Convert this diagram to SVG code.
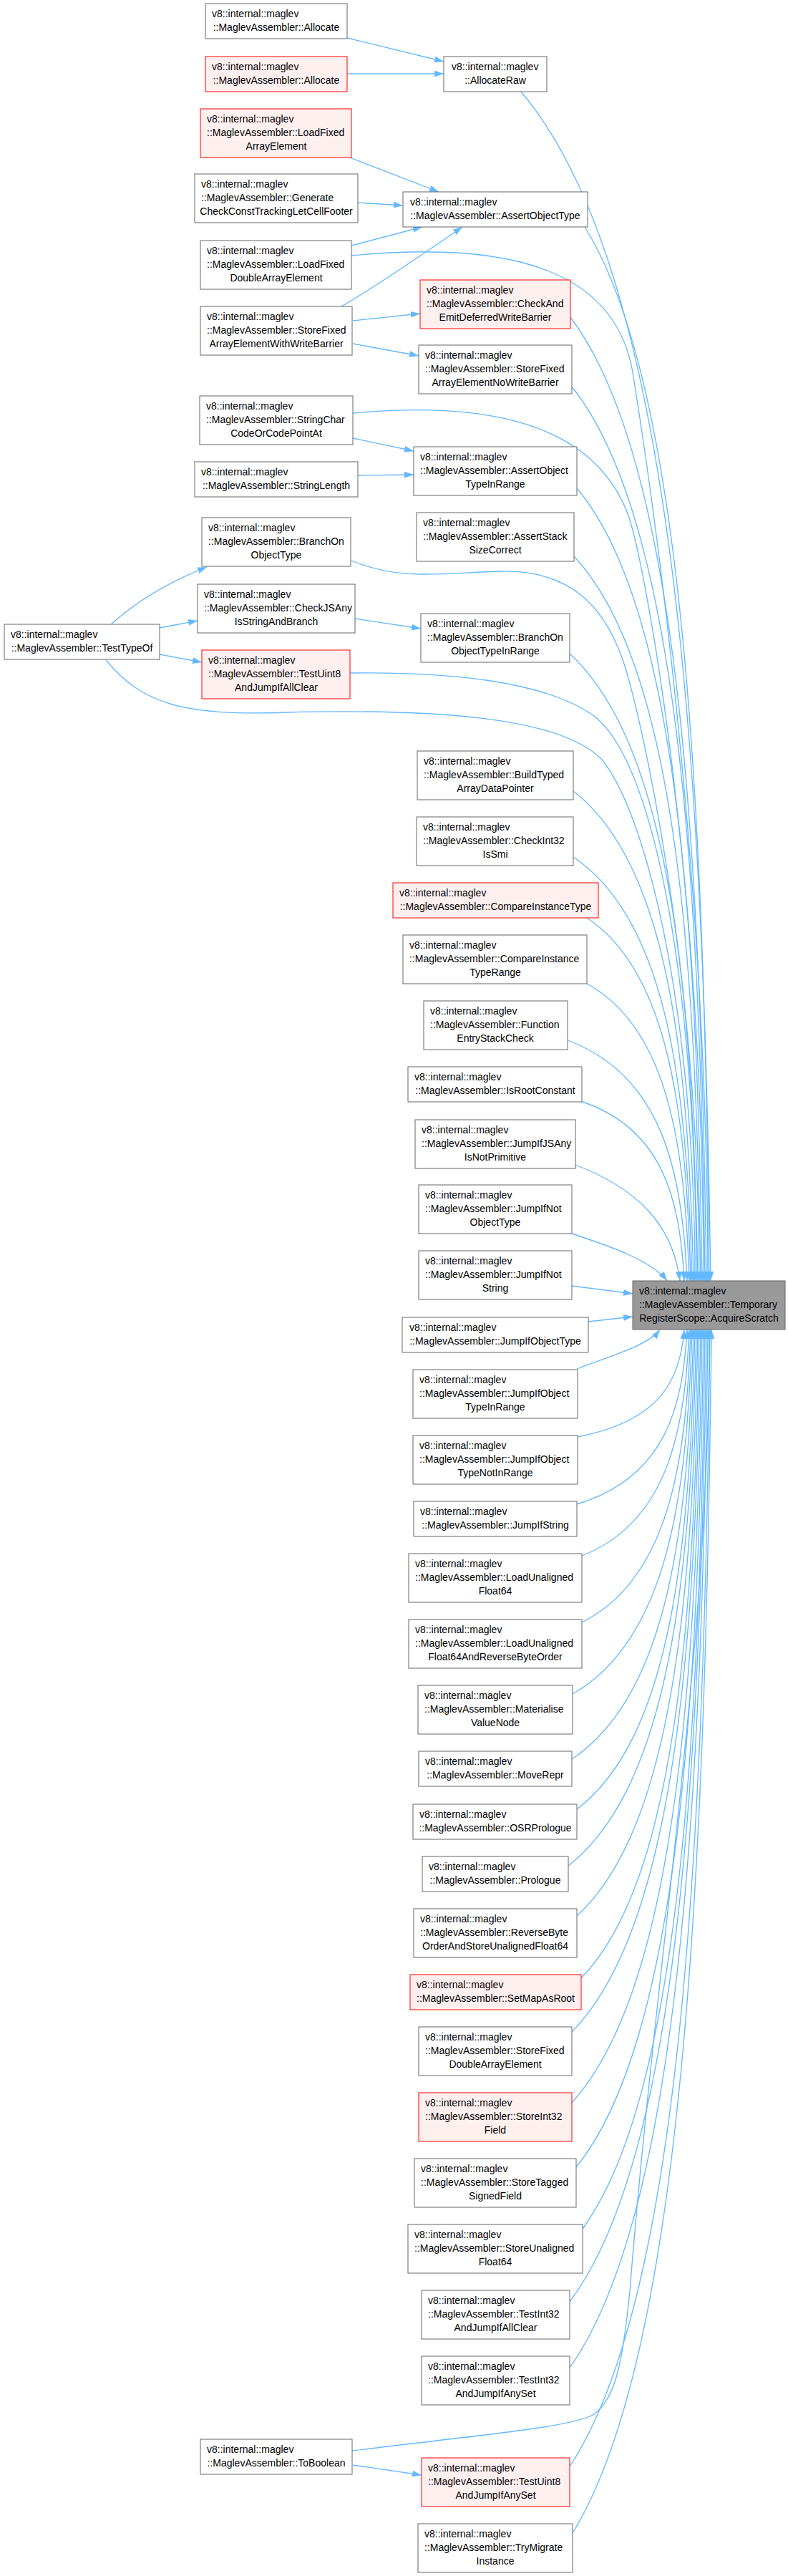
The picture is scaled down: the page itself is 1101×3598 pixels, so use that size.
<svg xmlns="http://www.w3.org/2000/svg" width="1101" height="3598" viewBox="0 0 1101 3598">
<style>
.n rect{fill:#ffffff;stroke:#666666;stroke-width:1}
.r rect{fill:#fff0f0;stroke:#ff0000;stroke-width:1}
.t rect{fill:#999999;stroke:#666666;stroke-width:1}
text{font-family:"Liberation Sans",Arial,sans-serif;font-size:14px;fill:#000000}
.c{text-anchor:middle}
#edges path{fill:none;stroke:#63b8ff;stroke-width:1.33;marker-end:url(#a)}
</style>
<defs>
<marker id="a" viewBox="0 0 13 9" markerWidth="13" markerHeight="9" refX="13" refY="4.5" orient="auto" markerUnits="userSpaceOnUse"><path d="M0,0L13,4.5L0,9z" fill="#63b8ff"/></marker>
</defs>
<rect width="1101" height="3598" fill="#ffffff"/>
<g id="edges">
<path d="M485,53 L620,86"/>
<path d="M485,103 L620,103"/>
<path d="M486,219 L613,268"/>
<path d="M500,283 L563,287"/>
<path d="M491,343 L590,317"/>
<path d="M477,428 C500,415 540,390 646,317"/>
<path d="M493,448 L587,438"/>
<path d="M493,480 L585,497"/>
<path d="M493,612 L578,630"/>
<path d="M500,664 L578,663"/>
<path d="M155,872 C185,845 230,815 289,792"/>
<path d="M223,877 L276,867"/>
<path d="M223,914 L282,925"/>
<path d="M496,864 L588,878"/>
<path d="M493,3443 L589,3457"/>
<path d="M727,127 C940,376 982,1041 993,1789"/>
<path d="M817,317 C956,538 984,1127 991,1789"/>
<path d="M491,357 C720,335 860,380 884,520 C905,650 989,1200 989,1789"/>
<path d="M797,443 C949,645 979,1183 987,1789"/>
<path d="M799,540 C948,727 978,1227 985,1789"/>
<path d="M493,577 C680,560 830,590 878,720 C905,800 983,1250 983,1789"/>
<path d="M806,682 C946,848 974,1291 981,1789"/>
<path d="M802,777 C944,929 972,1334 979,1789"/>
<path d="M491,783 C560,812 620,800 700,798 C800,796 850,850 876,940 C910,1060 977,1400 977,1789"/>
<path d="M796,913 C939,1044 968,1395 975,1789"/>
<path d="M489,940 C620,938 760,950 830,1000 C920,1070 973,1400 973,1789"/>
<path d="M148,922 C200,985 260,1000 400,995 C600,990 780,1000 840,1060 C900,1130 971,1400 971,1789"/>
<path d="M801,1105 C935,1208 962,1481 969,1789"/>
<path d="M801,1197 C934,1286 960,1523 967,1789"/>
<path d="M820,1282 C936,1358 959,1561 965,1789"/>
<path d="M820,1374 C934,1436 957,1602 963,1789"/>
<path d="M793,1453 C927,1503 953,1638 960,1789"/>
<path d="M811,1538 C927,1576 950,1676 956,1789"/>
<path d="M804,1627 C890,1660 940,1710 950,1789"/>
<path d="M799,1723 C850,1740 910,1760 932,1789"/>
<path d="M799,1796 L884,1807"/>
<path d="M822,1846 L884,1839"/>
<path d="M806,1912 C850,1895 905,1880 922,1857"/>
<path d="M807,2007 C926,1984 950,1925 956,1857"/>
<path d="M806,2101 C929,2064 954,1967 960,1857"/>
<path d="M813,2173 C933,2126 957,1999 963,1857"/>
<path d="M813,2266 C935,2205 959,2041 965,1857"/>
<path d="M800,2366 C934,2290 960,2086 967,1857"/>
<path d="M799,2457 C935,2367 962,2127 969,1857"/>
<path d="M806,2527 C938,2427 964,2159 971,1857"/>
<path d="M794,2606 C937,2494 966,2194 973,1857"/>
<path d="M806,2676 C941,2553 968,2226 975,1857"/>
<path d="M812,2763 C944,2627 970,2265 977,1857"/>
<path d="M799,2838 C943,2691 972,2298 979,1857"/>
<path d="M799,2937 C945,2775 974,2343 981,1857"/>
<path d="M805,3027 C947,2851 976,2384 983,1857"/>
<path d="M814,3113 C951,2925 978,2422 985,1857"/>
<path d="M796,3215 C949,3011 979,2468 987,1857"/>
<path d="M796,3307 C950,3089 981,2510 989,1857"/>
<path d="M492,3423 C680,3400 800,3390 830,3372 C860,3350 870,3300 880,3200 C920,2700 991,2300 991,1857"/>
<path d="M796,3445 C953,3207 984,2572 992,1857"/>
<path d="M800,3538 C955,3286 986,2613 994,1857"/>
</g>
<g id="n_alloc1" class="n"><rect x="287" y="5" width="198" height="49"/><text x="296" y="24">v8::internal::maglev</text><text class="c" x="386" y="43">::MaglevAssembler::Allocate</text></g>
<g id="n_alloc2" class="r"><rect x="287" y="79" width="198" height="49"/><text x="296" y="98">v8::internal::maglev</text><text class="c" x="386" y="117">::MaglevAssembler::Allocate</text></g>
<g id="n_loadfixed" class="r"><rect x="280" y="152" width="211" height="68"/><text x="289" y="171">v8::internal::maglev</text><text x="289" y="190">::MaglevAssembler::LoadFixed</text><text class="c" x="386" y="209">ArrayElement</text></g>
<g id="n_generate" class="n"><rect x="272" y="243" width="228" height="68"/><text x="281" y="262">v8::internal::maglev</text><text x="281" y="281">::MaglevAssembler::Generate</text><text class="c" x="386" y="300">CheckConstTrackingLetCellFooter</text></g>
<g id="n_loadfixeddouble" class="n"><rect x="280" y="336" width="211" height="68"/><text x="289" y="355">v8::internal::maglev</text><text x="289" y="374">::MaglevAssembler::LoadFixed</text><text class="c" x="386" y="393">DoubleArrayElement</text></g>
<g id="n_storefixedwb" class="n"><rect x="280" y="428" width="212" height="68"/><text x="289" y="447">v8::internal::maglev</text><text x="289" y="466">::MaglevAssembler::StoreFixed</text><text class="c" x="386" y="485">ArrayElementWithWriteBarrier</text></g>
<g id="n_stringchar" class="n"><rect x="279" y="553" width="214" height="68"/><text x="288" y="572">v8::internal::maglev</text><text x="288" y="591">::MaglevAssembler::StringChar</text><text class="c" x="386" y="610">CodeOrCodePointAt</text></g>
<g id="n_stringlength" class="n"><rect x="272" y="645" width="228" height="49"/><text x="281" y="664">v8::internal::maglev</text><text class="c" x="386" y="683">::MaglevAssembler::StringLength</text></g>
<g id="n_branchon" class="n"><rect x="282" y="723" width="208" height="68"/><text x="291" y="742">v8::internal::maglev</text><text x="291" y="761">::MaglevAssembler::BranchOn</text><text class="c" x="386" y="780">ObjectType</text></g>
<g id="n_checkjsany" class="n"><rect x="276" y="816" width="220" height="68"/><text x="285" y="835">v8::internal::maglev</text><text x="285" y="854">::MaglevAssembler::CheckJSAny</text><text class="c" x="386" y="873">IsStringAndBranch</text></g>
<g id="n_testuint8clear" class="r"><rect x="282" y="908" width="207" height="68"/><text x="291" y="927">v8::internal::maglev</text><text x="291" y="946">::MaglevAssembler::TestUint8</text><text class="c" x="386" y="965">AndJumpIfAllClear</text></g>
<g id="n_toboolean" class="n"><rect x="280" y="3407" width="212" height="49"/><text x="289" y="3426">v8::internal::maglev</text><text class="c" x="386" y="3445">::MaglevAssembler::ToBoolean</text></g>
<g id="n_testtypeof" class="n"><rect x="6" y="872" width="217" height="49"/><text x="15" y="891">v8::internal::maglev</text><text class="c" x="114.5" y="910">::MaglevAssembler::TestTypeOf</text></g>
<g id="c_allocateraw" class="n"><rect x="620" y="79" width="144" height="49"/><text x="631" y="98">v8::internal::maglev</text><text class="c" x="692" y="117">::AllocateRaw</text></g>
<g id="c_assertobjecttype" class="n"><rect x="563" y="268" width="258" height="49"/><text x="573" y="287">v8::internal::maglev</text><text class="c" x="692" y="306">::MaglevAssembler::AssertObjectType</text></g>
<g id="c_checkandemit" class="r"><rect x="587" y="391" width="210" height="68"/><text x="596" y="410">v8::internal::maglev</text><text x="596" y="429">::MaglevAssembler::CheckAnd</text><text class="c" x="692" y="448">EmitDeferredWriteBarrier</text></g>
<g id="c_storefixednowb" class="n"><rect x="585" y="482" width="214" height="68"/><text x="594" y="501">v8::internal::maglev</text><text x="594" y="520">::MaglevAssembler::StoreFixed</text><text class="c" x="692" y="539">ArrayElementNoWriteBarrier</text></g>
<g id="c_assertobjecttypeinrange" class="n"><rect x="578" y="624" width="228" height="68"/><text x="587" y="643">v8::internal::maglev</text><text x="587" y="662">::MaglevAssembler::AssertObject</text><text class="c" x="692" y="681">TypeInRange</text></g>
<g id="c_assertstacksizecorrect" class="n"><rect x="582" y="716" width="220" height="68"/><text x="591" y="735">v8::internal::maglev</text><text x="591" y="754">::MaglevAssembler::AssertStack</text><text class="c" x="692" y="773">SizeCorrect</text></g>
<g id="c_branchonobjecttypeinrange" class="n"><rect x="588" y="857" width="208" height="68"/><text x="597" y="876">v8::internal::maglev</text><text x="597" y="895">::MaglevAssembler::BranchOn</text><text class="c" x="692" y="914">ObjectTypeInRange</text></g>
<g id="c_buildtyped" class="n"><rect x="583" y="1049" width="218" height="68"/><text x="592" y="1068">v8::internal::maglev</text><text x="592" y="1087">::MaglevAssembler::BuildTyped</text><text class="c" x="692" y="1106">ArrayDataPointer</text></g>
<g id="c_checkint32issmi" class="n"><rect x="582" y="1141" width="219" height="68"/><text x="591" y="1160">v8::internal::maglev</text><text x="591" y="1179">::MaglevAssembler::CheckInt32</text><text class="c" x="692" y="1198">IsSmi</text></g>
<g id="c_compareinstancetype" class="r"><rect x="549" y="1233" width="287" height="49"/><text x="558" y="1252">v8::internal::maglev</text><text class="c" x="692.5" y="1271">::MaglevAssembler::CompareInstanceType</text></g>
<g id="c_compareinstancetyperange" class="n"><rect x="563" y="1306" width="257" height="68"/><text x="572" y="1325">v8::internal::maglev</text><text x="572" y="1344">::MaglevAssembler::CompareInstance</text><text class="c" x="692" y="1363">TypeRange</text></g>
<g id="c_functionentry" class="n"><rect x="592" y="1398" width="201" height="68"/><text x="601" y="1417">v8::internal::maglev</text><text x="601" y="1436">::MaglevAssembler::Function</text><text class="c" x="692" y="1455">EntryStackCheck</text></g>
<g id="c_isrootconstant" class="n"><rect x="570" y="1490" width="243" height="49"/><text x="579" y="1509">v8::internal::maglev</text><text class="c" x="692" y="1528">::MaglevAssembler::IsRootConstant</text></g>
<g id="c_jumpifjsany" class="n"><rect x="580" y="1564" width="224" height="68"/><text x="589" y="1583">v8::internal::maglev</text><text x="589" y="1602">::MaglevAssembler::JumpIfJSAny</text><text class="c" x="692" y="1621">IsNotPrimitive</text></g>
<g id="c_jumpifnotobjecttype" class="n"><rect x="585" y="1655" width="214" height="68"/><text x="594" y="1674">v8::internal::maglev</text><text x="594" y="1693">::MaglevAssembler::JumpIfNot</text><text class="c" x="692" y="1712">ObjectType</text></g>
<g id="c_jumpifnotstring" class="n"><rect x="585" y="1747" width="214" height="68"/><text x="594" y="1766">v8::internal::maglev</text><text x="594" y="1785">::MaglevAssembler::JumpIfNot</text><text class="c" x="692" y="1804">String</text></g>
<g id="c_jumpifobjecttype" class="n"><rect x="562" y="1840" width="260" height="49"/><text x="572" y="1859">v8::internal::maglev</text><text class="c" x="692" y="1878">::MaglevAssembler::JumpIfObjectType</text></g>
<g id="c_jumpifobjecttypeinrange" class="n"><rect x="577" y="1913" width="230" height="68"/><text x="586" y="1932">v8::internal::maglev</text><text x="586" y="1951">::MaglevAssembler::JumpIfObject</text><text class="c" x="692" y="1970">TypeInRange</text></g>
<g id="c_jumpifobjecttypenotinrange" class="n"><rect x="577" y="2005" width="230" height="68"/><text x="586" y="2024">v8::internal::maglev</text><text x="586" y="2043">::MaglevAssembler::JumpIfObject</text><text class="c" x="692" y="2062">TypeNotInRange</text></g>
<g id="c_jumpifstring" class="n"><rect x="578" y="2097" width="228" height="49"/><text x="587" y="2116">v8::internal::maglev</text><text class="c" x="692" y="2135">::MaglevAssembler::JumpIfString</text></g>
<g id="c_loadunaligned" class="n"><rect x="571" y="2170" width="242" height="68"/><text x="580" y="2189">v8::internal::maglev</text><text x="580" y="2208">::MaglevAssembler::LoadUnaligned</text><text class="c" x="692" y="2227">Float64</text></g>
<g id="c_loadunalignedrev" class="n"><rect x="571" y="2262" width="242" height="68"/><text x="580" y="2281">v8::internal::maglev</text><text x="580" y="2300">::MaglevAssembler::LoadUnaligned</text><text class="c" x="692" y="2319">Float64AndReverseByteOrder</text></g>
<g id="c_materialise" class="n"><rect x="584" y="2354" width="216" height="68"/><text x="593" y="2373">v8::internal::maglev</text><text x="593" y="2392">::MaglevAssembler::Materialise</text><text class="c" x="692" y="2411">ValueNode</text></g>
<g id="c_moverepr" class="n"><rect x="585" y="2446" width="214" height="49"/><text x="594" y="2465">v8::internal::maglev</text><text class="c" x="692" y="2484">::MaglevAssembler::MoveRepr</text></g>
<g id="c_osrprologue" class="n"><rect x="577" y="2520" width="229" height="49"/><text x="586" y="2539">v8::internal::maglev</text><text class="c" x="692" y="2558">::MaglevAssembler::OSRPrologue</text></g>
<g id="c_prologue" class="n"><rect x="590" y="2593" width="204" height="49"/><text x="599" y="2612">v8::internal::maglev</text><text class="c" x="692" y="2631">::MaglevAssembler::Prologue</text></g>
<g id="c_reversebyte" class="n"><rect x="578" y="2666" width="228" height="68"/><text x="587" y="2685">v8::internal::maglev</text><text x="587" y="2704">::MaglevAssembler::ReverseByte</text><text class="c" x="692" y="2723">OrderAndStoreUnalignedFloat64</text></g>
<g id="c_setmapasroot" class="r"><rect x="573" y="2758" width="239" height="49"/><text x="582" y="2777">v8::internal::maglev</text><text class="c" x="692.5" y="2796">::MaglevAssembler::SetMapAsRoot</text></g>
<g id="c_storefixeddouble" class="n"><rect x="585" y="2831" width="214" height="68"/><text x="594" y="2850">v8::internal::maglev</text><text x="594" y="2869">::MaglevAssembler::StoreFixed</text><text class="c" x="692" y="2888">DoubleArrayElement</text></g>
<g id="c_storeint32field" class="r"><rect x="585" y="2923" width="214" height="68"/><text x="594" y="2942">v8::internal::maglev</text><text x="594" y="2961">::MaglevAssembler::StoreInt32</text><text class="c" x="692" y="2980">Field</text></g>
<g id="c_storetagged" class="n"><rect x="579" y="3015" width="226" height="68"/><text x="588" y="3034">v8::internal::maglev</text><text x="588" y="3053">::MaglevAssembler::StoreTagged</text><text class="c" x="692" y="3072">SignedField</text></g>
<g id="c_storeunaligned" class="n"><rect x="570" y="3107" width="244" height="68"/><text x="579" y="3126">v8::internal::maglev</text><text x="579" y="3145">::MaglevAssembler::StoreUnaligned</text><text class="c" x="692" y="3164">Float64</text></g>
<g id="c_testint32allclear" class="n"><rect x="589" y="3199" width="207" height="68"/><text x="598" y="3218">v8::internal::maglev</text><text x="598" y="3237">::MaglevAssembler::TestInt32</text><text class="c" x="692.5" y="3256">AndJumpIfAllClear</text></g>
<g id="c_testint32anyset" class="n"><rect x="589" y="3291" width="207" height="68"/><text x="598" y="3310">v8::internal::maglev</text><text x="598" y="3329">::MaglevAssembler::TestInt32</text><text class="c" x="692.5" y="3348">AndJumpIfAnySet</text></g>
<g id="c_testuint8anyset" class="r"><rect x="589" y="3433" width="207" height="68"/><text x="598" y="3452">v8::internal::maglev</text><text x="598" y="3471">::MaglevAssembler::TestUint8</text><text class="c" x="692.5" y="3490">AndJumpIfAnySet</text></g>
<g id="c_trymigrate" class="n"><rect x="584" y="3525" width="216" height="68"/><text x="593" y="3544">v8::internal::maglev</text><text x="593" y="3563">::MaglevAssembler::TryMigrate</text><text class="c" x="692" y="3582">Instance</text></g>
<g id="target" class="t"><rect x="884" y="1789" width="213" height="68"/><text x="893" y="1808">v8::internal::maglev</text><text x="893" y="1827">::MaglevAssembler::Temporary</text><text class="c" x="990.5" y="1846">RegisterScope::AcquireScratch</text></g>
</svg>
